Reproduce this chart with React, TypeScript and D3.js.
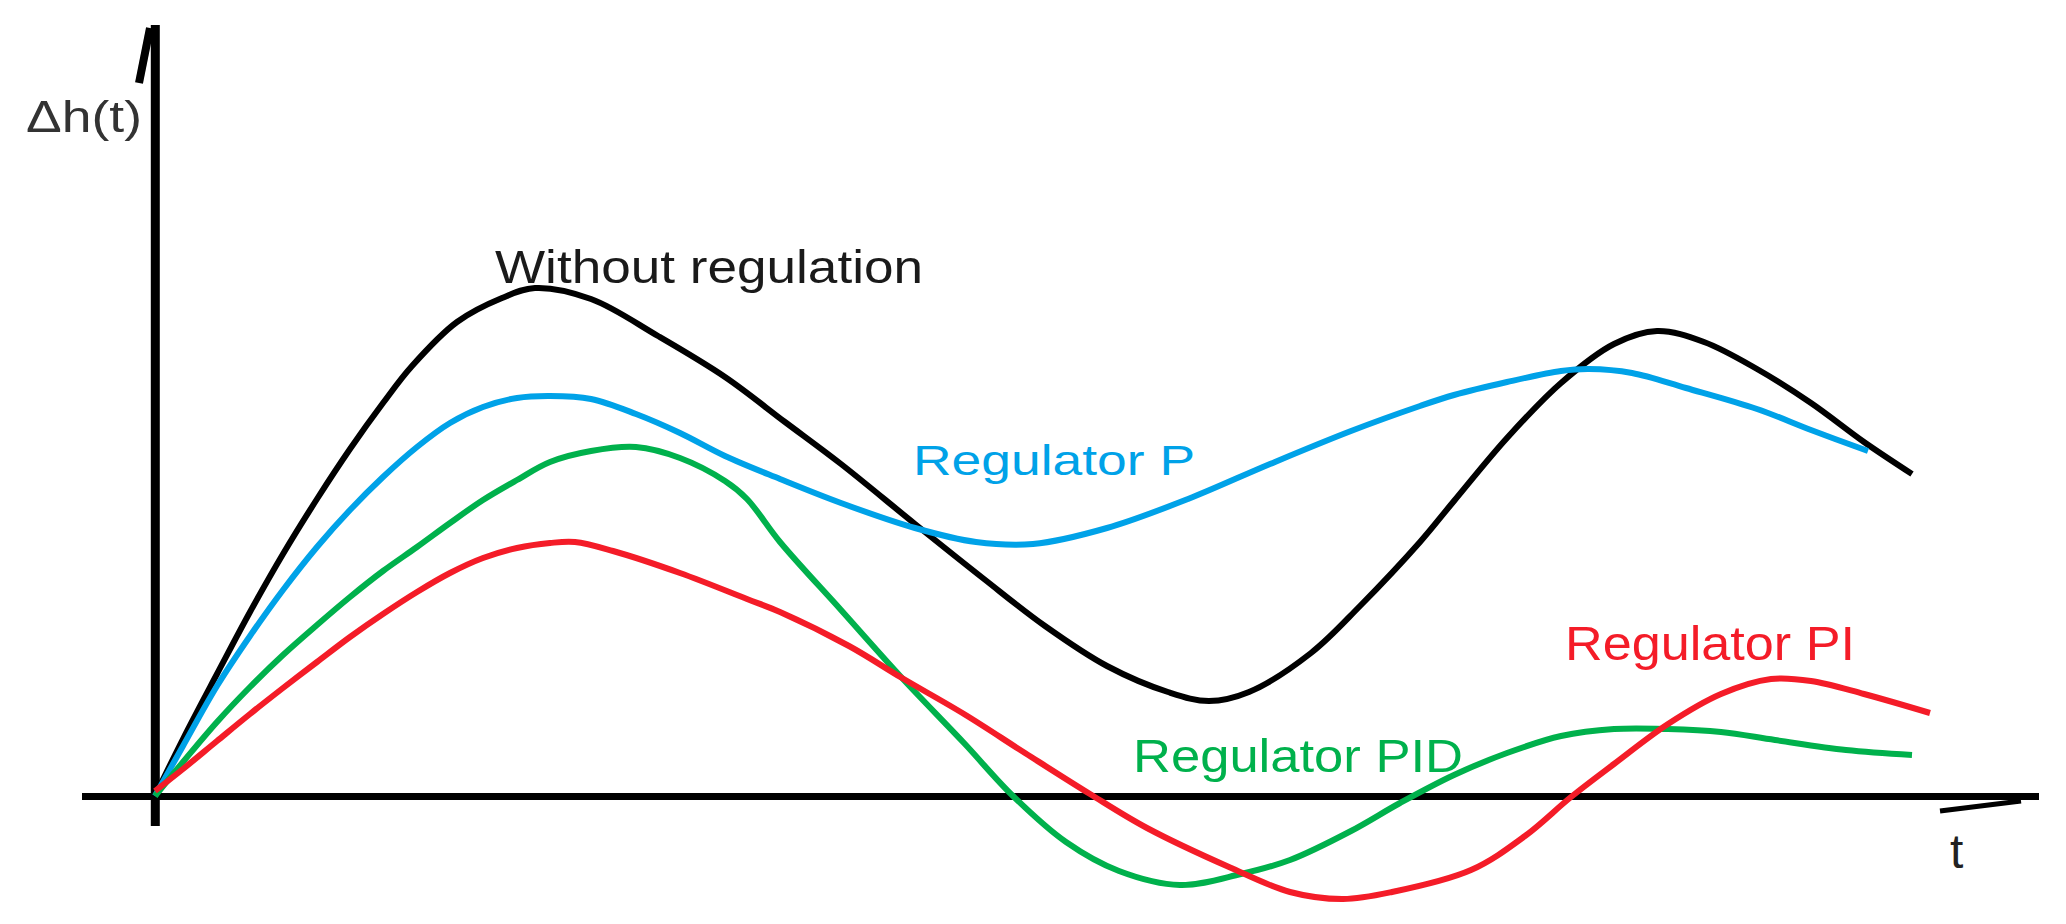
import React from "react";
import * as d3 from "d3";

// ---- data (t in arbitrary time units, Δh in arbitrary units) ----
const withoutRegT = [0, 0.28, 0.62, 0.95, 1.28, 1.62, 1.95, 2.28, 2.57, 3.02, 3.47, 3.8, 4.36, 5.03, 5.7, 6.3, 6.86, 7.6, 8.29, 8.9, 9.52, 10.13, 10.54, 10.94, 11.56, 12.05, 12.65, 12.99, 13.52, 14.06, 14.59, 15.02, 15.49, 16.02, 16.56, 17.09, 17.57];
const withoutRegH = [0, 0.57, 1.22, 1.84, 2.42, 2.97, 3.47, 3.93, 4.3, 4.74, 4.98, 5.08, 4.97, 4.6, 4.19, 3.74, 3.32, 2.72, 2.17, 1.7, 1.3, 1.04, 0.95, 1.04, 1.43, 1.9, 2.54, 2.95, 3.58, 4.13, 4.52, 4.65, 4.54, 4.27, 3.93, 3.54, 3.22];

const regPT = [0, 0.28, 0.62, 0.95, 1.28, 1.62, 1.95, 2.28, 2.62, 2.95, 3.28, 3.62, 3.95, 4.36, 4.81, 5.25, 5.7, 6.25, 6.86, 7.6, 8.21, 8.78, 9.52, 10.33, 11.15, 11.96, 12.65, 12.99, 13.52, 14.06, 14.34, 14.77, 15.31, 16.02, 16.56, 17.13];
const regPH = [0, 0.5, 1.1, 1.6, 2.06, 2.49, 2.86, 3.19, 3.49, 3.73, 3.89, 3.98, 4.0, 3.97, 3.82, 3.63, 3.4, 3.17, 2.93, 2.68, 2.54, 2.52, 2.68, 2.97, 3.32, 3.65, 3.9, 4.01, 4.14, 4.25, 4.27, 4.23, 4.08, 3.87, 3.66, 3.45];

const regPIDT = [0, 0.28, 0.62, 0.95, 1.28, 1.62, 1.95, 2.28, 2.62, 2.95, 3.28, 3.62, 3.95, 4.36, 4.81, 5.25, 5.7, 5.92, 6.25, 6.86, 7.47, 8.09, 8.58, 9.11, 9.64, 10.25, 10.86, 11.35, 11.96, 12.45, 12.99, 13.52, 14.06, 14.59, 15.13, 15.66, 16.2, 16.91, 17.57];
const regPIDH = [0, 0.34, 0.74, 1.09, 1.41, 1.71, 1.99, 2.25, 2.49, 2.73, 2.96, 3.16, 3.34, 3.45, 3.49, 3.38, 3.15, 2.97, 2.54, 1.86, 1.18, 0.53, 0.0, -0.46, -0.75, -0.89, -0.78, -0.64, -0.35, -0.07, 0.21, 0.43, 0.6, 0.67, 0.67, 0.64, 0.56, 0.46, 0.41];

const regPIT = [0, 0.28, 0.62, 0.95, 1.28, 1.62, 1.95, 2.28, 2.62, 2.95, 3.28, 3.62, 3.95, 4.2, 4.58, 5.25, 5.92, 6.25, 6.94, 7.47, 8.09, 8.7, 9.35, 9.92, 10.74, 11.35, 11.88, 12.37, 13.16, 13.7, 14.16, 14.59, 15.13, 15.66, 16.16, 16.56, 17.09, 17.75];
const regPIH = [0.05, 0.27, 0.55, 0.82, 1.08, 1.34, 1.59, 1.82, 2.04, 2.23, 2.38, 2.48, 2.53, 2.54, 2.45, 2.23, 1.97, 1.84, 1.5, 1.18, 0.82, 0.43, 0.02, -0.32, -0.71, -0.96, -1.03, -0.96, -0.74, -0.4, -0.01, 0.32, 0.72, 1.02, 1.17, 1.15, 1.02, 0.83];

const seriesNames = ["Without regulation", "Regulator P", "Regulator PID", "Regulator PI"];
const seriesColors = ["#000000", "#00A2E8", "#00B14C", "#F41C28"];

// axis extents (data units)
const tAxisExtent = [-0.73, 18.84];
const hAxisExtent = [-0.3, 7.71];

const W = 2066;
const H = 924;

export default function App() {
  const x = d3.scaleLinear().domain([0, 10]).range([155, 1155]);
  const y = d3.scaleLinear().domain([0, 5]).range([796, 296]);

  const line = d3
    .line<[number, number]>()
    .x((d) => x(d[0]))
    .y((d) => y(d[1]))
    .curve(d3.curveCatmullRom.alpha(0.5));

  const zip = (a: number[], b: number[]) => a.map((v, i) => [v, b[i]] as [number, number]);
  const series = [
    zip(withoutRegT, withoutRegH),
    zip(regPT, regPH),
    zip(regPIDT, regPIDH),
    zip(regPIT, regPIH),
  ];

  const font = "'Liberation Sans', Arial, sans-serif";

  return (
    <svg
      width={W}
      height={H}
      style={{ position: "absolute", left: 0, top: 0, background: "#fff" }}
    >
      <rect x={0} y={0} width={W} height={H} fill="#fff" />
      {/* axes */}
      <line
        x1={x(tAxisExtent[0])}
        x2={x(tAxisExtent[1])}
        y1={y(0) + 0.5}
        y2={y(0) + 0.5}
        stroke="#000"
        strokeWidth={7}
      />
      <line
        x1={x(0) + 0.3}
        x2={x(0) + 0.3}
        y1={y(hAxisExtent[1])}
        y2={y(hAxisExtent[0])}
        stroke="#000"
        strokeWidth={9}
      />
      {/* hand-drawn arrow flicks */}
      <line x1={x(0) - 5} y1={y(hAxisExtent[1]) + 3} x2={x(0) - 16} y2={y(hAxisExtent[1]) + 58} stroke="#000" strokeWidth={8} />
      <line x1={x(17.85)} y1={y(-0.15)} x2={x(18.66)} y2={y(-0.05)} stroke="#000" strokeWidth={5} />

      {/* curves */}
      {series.map((s, i) => (
        <path
          key={seriesNames[i]}
          d={line(s) || ""}
          fill="none"
          stroke={seriesColors[i]}
          strokeWidth={6}
          strokeLinejoin="round"
        />
      ))}

      {/* labels */}
      <text x={26} y={132} fontFamily={font} fontSize={44} fill="#333" textLength={116} lengthAdjust="spacingAndGlyphs">
        Δh(t)
      </text>
      <text x={1950} y={868} fontFamily={font} fontSize={48} fill="#222">
        t
      </text>
      <text x={495} y={283} fontFamily={font} fontSize={47} fill="#1a1a1a" textLength={428} lengthAdjust="spacingAndGlyphs">
        {seriesNames[0]}
      </text>
      <text x={913} y={475} fontFamily={font} fontSize={42} fill={seriesColors[1]} textLength={282} lengthAdjust="spacingAndGlyphs">
        {seriesNames[1]}
      </text>
      <text x={1133} y={772} fontFamily={font} fontSize={47} fill={seriesColors[2]} textLength={330} lengthAdjust="spacingAndGlyphs">
        {seriesNames[2]}
      </text>
      <text x={1565} y={660} fontFamily={font} fontSize={48} fill={seriesColors[3]} textLength={290} lengthAdjust="spacingAndGlyphs">
        {seriesNames[3]}
      </text>
    </svg>
  );
}
